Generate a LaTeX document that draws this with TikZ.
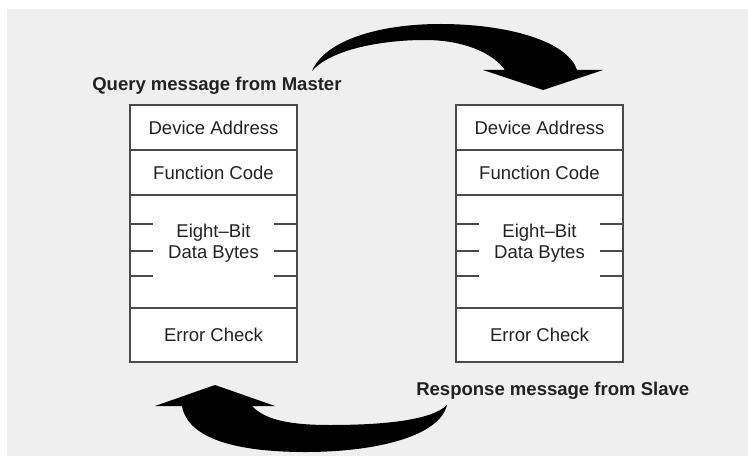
\documentclass[tikz,border=0pt]{standalone}
\usepackage{fontspec}
\setmainfont{Liberation Sans}
\usetikzlibrary{calc,positioning}
\definecolor{bggray}{HTML}{EFEFEF}
\definecolor{framegray}{HTML}{4A4A4A}
\definecolor{inkgray}{HTML}{222222}
\tikzset{
    field/.style ={draw=framegray, line width=1.2pt, fill=white, minimum width=125.25pt,
                   inner sep=0pt, outer sep=0pt, text=inkgray, font=\fontsize{13.9}{15.75}\selectfont},
    datatext/.style = {align=center, inner sep=0pt, text=inkgray, font=\fontsize{13.9}{15.75}\selectfont},
    title/.style = {anchor=base west, inner sep=0pt, text=inkgray, font=\bfseries\fontsize{13.9}{16}\selectfont},
    tick/.style = {draw=framegray, line width=1.2pt},
    bigarrow/.style = {fill=black}
}

\begin{document}
\begin{tikzpicture}[x=0.75pt,y=-0.75pt]
    \useasboundingbox (0,0) rectangle (748,456);
    \fill[bggray] (7,9) rectangle (748,456);

    % query frame
    \node[field, minimum height=33.75pt] (qaddr) at (213.5,127.5) {Device Address};
    \node[field, minimum height=33.75pt, below=0pt of qaddr] (qfunc) {Function Code};
    \node[field, minimum height=84.75pt, below=0pt of qfunc] (qdata) {};
    \node[field, minimum height=40.5pt, below=0pt of qdata] (qcrc) {Error Check};
    \node[datatext] (qbytes) at ([yshift=6pt]qdata.center) {Eight--Bit\\Data Bytes};

    % response frame
    \node[field, minimum height=33.75pt] (raddr) at (539.5,127.5) {Device Address};
    \node[field, minimum height=33.75pt, below=0pt of raddr] (rfunc) {Function Code};
    \node[field, minimum height=84.75pt, below=0pt of rfunc] (rdata) {};
    \node[field, minimum height=40.5pt, below=0pt of rdata] (rcrc) {Error Check};
    \node[datatext] (rbytes) at ([yshift=6pt]rdata.center) {Eight--Bit\\Data Bytes};

    \foreach \side in {q,r}
        \foreach \dy in {29,56,81} {
            \draw[tick] ($(\side data.north west)+(0,\dy)$) -- ++(23,0);
            \draw[tick] ($(\side data.north east)+(0,\dy)$) -- ++(-23,0);
        }

    \node[title] (querylbl) at (92,91) {Query message from Master};
    \node[title] (resplbl) at (416,395) {Response message from Slave};

    % master -> slave
    \fill[bigarrow] (312,71) .. controls (325,40) and (380,24) .. (440,24)
        .. controls (510,24) and (568,42) .. (577,70) -- (603,70) -- (543,90) -- (483,70) -- (505,70)
        .. controls (492,52) and (462,40) .. (425,40) .. controls (380,40) and (330,50) .. (312,71) -- cycle;
    % slave -> master
    \fill[bigarrow] (182,406) -- (155,406) -- (215,385) -- (275,406) -- (252,406)
        .. controls (265,420) and (290,425) .. (330,425) .. controls (385,425) and (432,420) .. (447,405)
        .. controls (440,435) and (380,452) .. (305,452) .. controls (240,452) and (188,440) .. (182,406) -- cycle;
\end{tikzpicture}
\end{document}
